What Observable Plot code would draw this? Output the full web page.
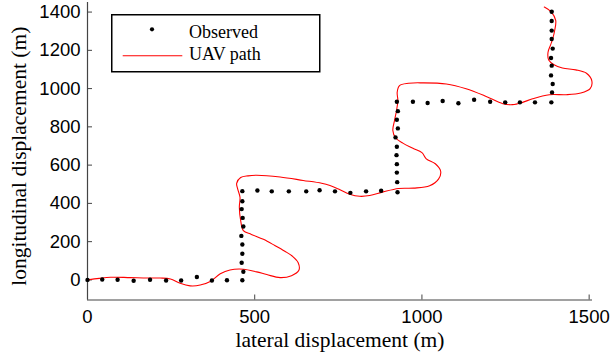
<!DOCTYPE html>
<html>
<head>
<meta charset="utf-8">
<script src="https://cdn.jsdelivr.net/npm/d3@7"></script>
<script src="https://cdn.jsdelivr.net/npm/@observablehq/plot@0.6"></script>
<style>
  html, body { margin: 0; padding: 0; background: #fff; }
  #chart { position: relative; width: 610px; height: 358px; }
  #legend { position: absolute; left: 111px; top: 14px; }
</style>
</head>
<body>
<div id="chart"></div>
<script>
// Tick values
const xTicks = [0, 500, 1000, 1500];
const yTicks = [0, 200, 400, 600, 800, 1000, 1200, 1400];

// Observed positions (m): lateral, longitudinal
const obsX = [0, 44, 90, 138, 187, 235, 280, 327, 372, 417, 463,
  466, 461, 463, 463, 460, 466, 464, 461, 463, 463,
  508, 551, 602, 654, 694, 740, 786, 833, 878, 927,
  926, 925, 925, 924, 925, 921, 928, 925, 928, 925,
  973, 1017, 1062, 1109, 1156, 1204, 1249, 1293, 1338, 1387,
  1389, 1391, 1386, 1388, 1386, 1391, 1388, 1388, 1388, 1388];
const obsY = [0, 2, 1, -4, 1, -3, -3, 15, -3, -2, -2,
  43, 90, 137, 185, 230, 279, 324, 370, 411, 464,
  467, 463, 463, 463, 469, 463, 455, 463, 466, 458,
  511, 561, 605, 652, 696, 745, 792, 837, 882, 931,
  931, 925, 935, 923, 942, 931, 928, 928, 928, 928,
  980, 1024, 1069, 1120, 1160, 1209, 1259, 1303, 1353, 1402];

// Estimated UAV path (m)
const pathX = [0, 35, 69, 128, 180, 218, 248, 277, 307, 337, 367, 397, 426, 466, 506, 536, 576, 610, 632, 630,
  612, 590, 560, 526, 490, 466, 458, 454, 456, 449, 446, 458, 480, 506, 576, 645, 700, 725, 755, 784,
  814, 844, 884, 930, 975, 1023, 1050, 1056, 1040, 1013, 1000, 973, 943, 921, 913, 918, 924, 928, 926, 933,
  960, 1000, 1073, 1132, 1192, 1242, 1271, 1301, 1331, 1381, 1431, 1475, 1503, 1508, 1492, 1460, 1420, 1395, 1379, 1377,
  1385, 1391, 1397, 1400, 1387, 1366];
const pathY = [0, 8, 14, 12, 10, 10, 5, -18, -31, -27, -8, 32, 52, 56, 42, 28, 12, 22, 50, 90,
  125, 150, 180, 212, 238, 258, 310, 380, 432, 476, 505, 535, 544, 547, 538, 520, 505, 493, 471, 448,
  437, 441, 460, 478, 480, 492, 528, 568, 607, 633, 665, 688, 715, 743, 781, 833, 885, 938, 981, 1016,
  1028, 1030, 1024, 999, 959, 921, 916, 928, 947, 968, 968, 977, 1000, 1040, 1080, 1098, 1108, 1125, 1150, 1190,
  1230, 1260, 1305, 1357, 1400, 1426];

const observed = obsX.map((x, i) => ({x, y: obsY[i]}));
const path = pathX.map((x, i) => ({x, y: pathY[i]}));

const xDomain = [0, 1510];
const yDomain = [-105, 1450];
const plain = d => String(d);

const chart = Plot.plot({
  width: 610,
  height: 358,
  marginLeft: 87,
  marginRight: 18,
  marginTop: 2,
  marginBottom: 58.5,
  x: {domain: xDomain},
  y: {domain: yDomain},
  style: {fontFamily: "'Liberation Sans', Arial, sans-serif", fontSize: "18.5px", color: "black", background: "white", overflow: "visible"},
  marks: [
    Plot.ruleY([yDomain[0]], {stroke: "#444", strokeWidth: 1.2}),
    Plot.ruleX([xDomain[0]], {stroke: "#444", strokeWidth: 1.2}),
    Plot.axisX(xTicks, {tickSize: -5, tickPadding: 14.4, tickFormat: plain, label: null, stroke: "#444", fill: "black"}),
    Plot.axisY(yTicks, {tickSize: -5, tickPadding: 12, tickFormat: plain, label: null, stroke: "#444", fill: "black"}),
    Plot.line(path, {x: "x", y: "y", stroke: "#ff0000", strokeWidth: 1.1, curve: "catmull-rom"}),
    Plot.dot(observed, {x: "x", y: "y", r: 2.2, fill: "black", stroke: "none"}),
    Plot.text(["lateral displacement (m)"], {frameAnchor: "bottom", dy: 46.5, lineAnchor: "bottom",
      fontFamily: "'Liberation Serif', 'Times New Roman', serif", fontSize: 21.5, fill: "black"}),
    Plot.text(["longitudinal displacement (m)"], {frameAnchor: "left", rotate: -90, dx: -62, dy: 5, lineAnchor: "bottom",
      textAnchor: "middle",
      fontFamily: "'Liberation Serif', 'Times New Roman', serif", fontSize: 21.5, fill: "black"})
  ]
});

const root = document.getElementById("chart");
root.appendChild(chart);

// Legend box
const legend = document.createElement("div");
legend.id = "legend";
legend.innerHTML = `
<svg width="210" height="59" xmlns="http://www.w3.org/2000/svg" font-family="'Liberation Serif', 'Times New Roman', serif" font-size="18">
  <rect x="0.75" y="0.75" width="208" height="57" fill="white" stroke="black" stroke-width="1.5"/>
  <circle cx="41" cy="15.3" r="2.1" fill="black"/>
  <text x="78" y="24">Observed</text>
  <line x1="11.7" x2="71.3" y1="41.7" y2="41.7" stroke="#ff0000" stroke-width="1.1"/>
  <text x="78" y="46">UAV path</text>
</svg>`;
root.appendChild(legend);
</script>
</body>
</html>
